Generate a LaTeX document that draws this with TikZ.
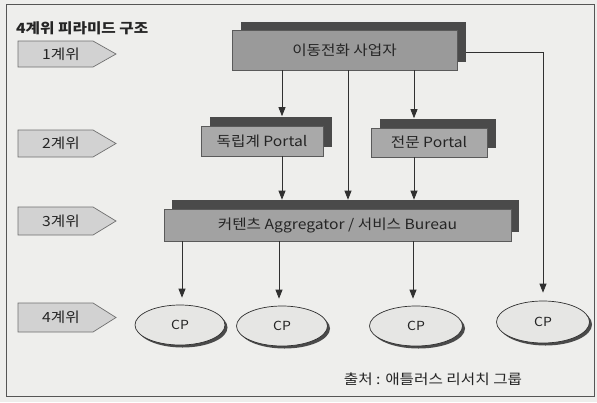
\documentclass[tikz,border=0pt]{standalone}
\usepackage{fontspec}
\setmainfont{Noto Sans CJK KR}[FakeStretch=1.12]
\usetikzlibrary{shadows,arrows.meta,shapes.geometric}
\definecolor{bgc}{HTML}{EEEEEC}
\definecolor{framec}{HTML}{555555}
\definecolor{shadowc}{HTML}{4A4A4A}
\definecolor{topc}{HTML}{9A9A9A}
\definecolor{portc}{HTML}{A9A9A9}
\definecolor{aggc}{HTML}{A2A2A2}
\definecolor{boxline}{HTML}{5A5A5A}
\definecolor{levc}{HTML}{D2D2D2}
\definecolor{levline}{HTML}{707070}
\definecolor{cpc}{HTML}{E6E6E4}
\definecolor{arrc}{HTML}{303030}
\definecolor{txtc}{HTML}{252525}
\begin{document}
\begin{tikzpicture}[x=1pt,y=-1pt,
  boxbase/.style={draw=boxline, line width=0.6pt, inner sep=0pt, text=txtc,
    font=\fontsize{14}{16}\selectfont},
  topbox/.style={boxbase, fill=topc, minimum width=225pt, minimum height=40pt,
    general shadow={fill=shadowc, shadow xshift=9pt, shadow yshift=8.5pt}},
  portbox/.style={boxbase, fill=portc,
    general shadow={fill=shadowc, shadow xshift=9pt, shadow yshift=9.5pt}},
  aggbox/.style={boxbase, fill=aggc, minimum width=347pt, minimum height=32pt,
    general shadow={fill=shadowc, shadow xshift=8pt, shadow yshift=9pt}},
  cpnode/.style={ellipse, draw=arrc, line width=0.7pt, fill=cpc, inner sep=0pt,
    text=txtc, font=\fontsize{12.5}{14}\selectfont,
    general shadow={fill=shadowc, shadow xshift=2.5pt, shadow yshift=-2.5pt}},
  levshape/.style={draw=levline, fill=levc, line width=0.7pt},
  levtext/.style={text=txtc, font=\fontsize{14}{16}\selectfont, inner sep=0pt},
  arr/.style={draw=arrc, line width=0.8pt, -{Triangle[length=9pt,width=7pt]}}
]
\fill[bgc] (0,0) rectangle (597,402);
\useasboundingbox (0,0) rectangle (597,402);
\draw[framec, line width=0.8pt] (6,4) rectangle (594,396);

% title
\node[anchor=west, inner sep=0pt, text=txtc, font=\fontsize{14}{16}\selectfont\bfseries]
  (title) at (16,28) {4계위 피라미드 구조};

% level markers
\draw[levshape] (18,41) -- (93,41) -- (116,54) -- (93,67) -- (18,67) -- cycle;
\node[levtext] (l1) at (61,54) {1계위};
\draw[levshape] (18,130) -- (93,130) -- (116,143.5) -- (93,157) -- (18,157) -- cycle;
\node[levtext] (l2) at (61,143.5) {2계위};
\draw[levshape] (18,207) -- (93,207) -- (116,221) -- (93,235) -- (18,235) -- cycle;
\node[levtext] (l3) at (61,221) {3계위};
\draw[levshape] (18,303) -- (93,303) -- (116,317.5) -- (93,332) -- (18,332) -- cycle;
\node[levtext] (l4) at (61,317.5) {4계위};

% boxes
\node[topbox] (top) at (344.5,50) {이동전화 사업자};
\node[portbox, minimum width=122pt, minimum height=30pt] (ind) at (262,141) {독립계 Portal};
\node[portbox, minimum width=116pt, minimum height=29pt] (spec) at (429,142.5) {전문 Portal};
\node[aggbox] (agg) at (337.5,225) {커텐츠 Aggregator / 서비스 Bureau};

% CPs
\node[cpnode, minimum width=90pt, minimum height=40pt] (cp1) at (180,325) {CP};
\node[cpnode, minimum width=91pt, minimum height=40pt] (cp2) at (282,326) {CP};
\node[cpnode, minimum width=93pt, minimum height=40pt] (cp3) at (416,326) {CP};
\node[cpnode, minimum width=93pt, minimum height=42pt] (cp4) at (543,322) {CP};

% source
\node[inner sep=0pt, text=txtc, font=\fontsize{14}{16}\selectfont] (src) at (433,379)
  {출처 : 애틀러스 리서치 그룹};

% helper coordinates
\coordinate (xa) at (282,0);
\coordinate (xb) at (348,0);
\coordinate (xc) at (414,0);
\coordinate (xd) at (182,0);
\coordinate (xe) at (279,0);
\coordinate (xf) at (413,0);
\coordinate (indtop) at ([yshift=9.5pt]ind.north);
\coordinate (spectop) at ([yshift=9.5pt]spec.north);
\coordinate (aggtop) at ([yshift=9pt]agg.north);
\coordinate (c1top) at ([yshift=7pt]cp1.north);
\coordinate (c2top) at ([yshift=7pt]cp2.north);
\coordinate (c3top) at ([yshift=7pt]cp3.north);
\coordinate (c4top) at ([yshift=8pt]cp4.north);
\coordinate (topr) at ([xshift=9pt,yshift=-2pt]top.east);

% connectors
\draw[arr] (top.south -| xa) -- (indtop -| xa);
\draw[arr] (top.south -| xb) -- (aggtop -| xb);
\draw[arr] (top.south -| xc) -- (spectop -| xc);
\draw[arr] (topr) -| (c4top);
\draw[arr] (ind.south -| xa) -- (aggtop -| xa);
\draw[arr] (spec.south -| xc) -- (aggtop -| xc);
\draw[arr] (agg.south -| xd) -- (c1top -| xd);
\draw[arr] (agg.south -| xe) -- (c2top -| xe);
\draw[arr] (agg.south -| xf) -- (c3top -| xf);
\end{tikzpicture}
\end{document}
